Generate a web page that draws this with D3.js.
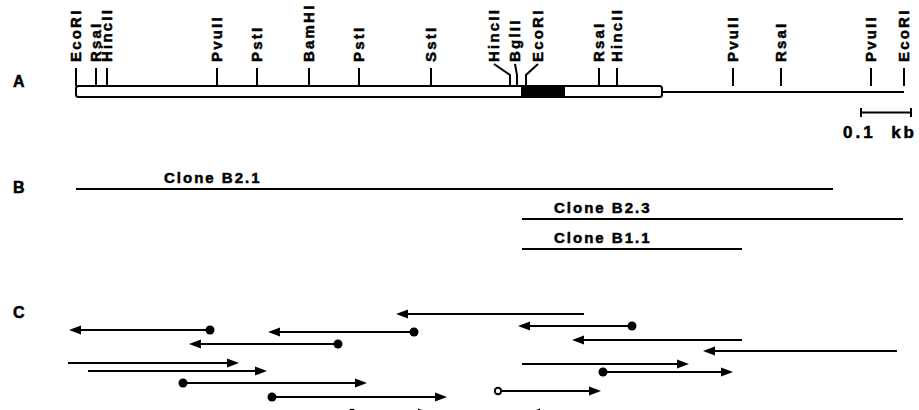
<!DOCTYPE html>
<html>
<head>
<meta charset="utf-8">
<script src="https://cdn.jsdelivr.net/npm/d3@7"></script>
<style>
  body { margin: 0; background: #fff; }
  svg text { font-family: "Liberation Sans", Arial, sans-serif; font-weight: bold; fill: #000;
             stroke: #000; stroke-width: 0.5px; }
</style>
</head>
<body>
<svg class="chart"></svg>
<script>
var width = 919, height = 410;

// restriction sites, positions in bp from the left EcoRI site
var siteNames = ["EcoRI", "RsaI", "HincII", "PvuII", "PstI", "BamHI", "PstI", "SstI",
                 "HincII", "BglII", "EcoRI", "RsaI", "HincII", "PvuII", "RsaI", "PvuII", "EcoRI"];
var sitePos   = [0, 40, 62, 282, 362, 466, 566, 710, 868, 882, 900, 1046, 1082, 1314, 1410, 1590, 1656];
var labelPos  = [0, 40, 62, 282, 362, 466, 566, 710, 836, 878, 924, 1046, 1082, 1314, 1410, 1590, 1656];

// cDNA insert (open box) and coding block (filled)
var insert = [0, 1172];
var coding = [890, 978];
var scaleBar = [1570, 1670];

// clones (panel B)
var cloneNames = ["Clone B2.1", "Clone B2.3", "Clone B1.1"];
var cloneStart = [0, 892, 892];
var cloneEnd   = [1514, 1654, 1332];
var cloneLane  = [0, 1, 2];

// sequencing runs (panel C): from origin to arrow tip
var readFrom = [268, 676, 524, 1016, -16, 24, 214, 392, 1112, 1332, 1642, 892, 1054, 844, 552, 1168];
var readTo   = [-14, 384, 226, 640, 326, 382, 582, 742, 884, 992, 1254, 1226, 1314, 1050, 708, 904];
var readLane = [16, 18, 30, 0, 49, 57, 69, 83, 12, 26, 37, 50, 58, 77, 99, 99];
var readMark = ["dot", "dot", "dot", "none", "none", "none", "dot", "dot",
                "dot", "none", "none", "none", "dot", "open", "open", "none"];

var x = d3.scaleLinear().domain([0, 1656]).range([76, 904]);
var yClone = d3.scaleLinear().domain([0, 2]).range([189, 249]);
var yRead = d3.scaleLinear().domain([0, 100]).range([314, 414]);

var svg = d3.select(".chart")
    .attr("width", width)
    .attr("height", height);

// panel letters
svg.selectAll(".panel")
  .data([["A", 87], ["B", 193], ["C", 318]])
  .enter().append("text")
    .attr("class", "panel")
    .attr("x", 13)
    .attr("y", function(d) { return d[1]; })
    .style("font-size", "16px")
    .text(function(d) { return d[0]; });

// ---- panel A ----
var mapG = svg.append("g");

mapG.append("line")
    .attr("x1", x(insert[1])).attr("x2", x(1656))
    .attr("y1", 92).attr("y2", 92)
    .attr("stroke", "#000").attr("stroke-width", 2);

mapG.append("rect")
    .attr("x", x(insert[0]))
    .attr("y", 86)
    .attr("width", x(insert[1]) - x(insert[0]))
    .attr("height", 11)
    .attr("rx", 2.5)
    .attr("fill", "#fff")
    .attr("stroke", "#000")
    .attr("stroke-width", 2);

mapG.append("rect")
    .attr("x", x(coding[0]))
    .attr("y", 86)
    .attr("width", x(coding[1]) - x(coding[0]))
    .attr("height", 11)
    .attr("fill", "#000");

var sites = siteNames.map(function(n, i) {
  return {name: n, pos: sitePos[i], label: labelPos[i]};
});

mapG.selectAll(".tick")
  .data(sites)
  .enter().append("path")
    .attr("class", "tick")
    .attr("fill", "none")
    .attr("stroke", "#000")
    .attr("stroke-width", 2)
    .attr("d", function(d) {
      if (d.label === d.pos) return "M" + x(d.pos) + ",68V86";
      return "M" + x(d.label) + ",64L" + x(d.pos) + ",75V86";
    });

mapG.selectAll(".site")
  .data(sites)
  .enter().append("text")
    .attr("class", "site")
    .attr("transform", function(d) { return "translate(" + x(d.label) + ",62) rotate(-90)"; })
    .attr("dy", "0.36em")
    .style("font-size", "15px")
    .style("letter-spacing", "2.2px")
    .text(function(d) { return d.name; });

// scale bar
mapG.append("path")
    .attr("fill", "none").attr("stroke", "#000").attr("stroke-width", 2)
    .attr("d", "M" + x(scaleBar[0]) + ",108V117M" + x(scaleBar[0]) + ",112.5H" + x(scaleBar[1]) +
               "M" + x(scaleBar[1]) + ",108V117");

mapG.append("text")
    .attr("x", 917)
    .attr("y", 138)
    .attr("text-anchor", "end")
    .style("font-size", "17px")
    .style("letter-spacing", "3px")
    .text("0.1\u00a0 kb");

// ---- panel B ----
var clones = cloneNames.map(function(n, i) {
  return {name: n, a: cloneStart[i], b: cloneEnd[i], lane: cloneLane[i]};
});

var cg = svg.selectAll(".clone")
  .data(clones)
  .enter().append("g")
    .attr("class", "clone");

cg.append("line")
    .attr("x1", function(d) { return x(d.a); })
    .attr("x2", function(d) { return x(d.b); })
    .attr("y1", function(d) { return yClone(d.lane); })
    .attr("y2", function(d) { return yClone(d.lane); })
    .attr("stroke", "#000")
    .attr("stroke-width", 2);

cg.append("text")
    .attr("x", function(d) { return x(d.a) + (d.a === 0 ? 88 : 32); })
    .attr("y", function(d) { return yClone(d.lane) - 6; })
    .style("font-size", "15px")
    .style("letter-spacing", "2px")
    .text(function(d) { return d.name; });

// ---- panel C ----
var reads = readFrom.map(function(f, i) {
  return {from: f, to: readTo[i], lane: readLane[i], mark: readMark[i]};
});

var rg = svg.selectAll(".read")
  .data(reads)
  .enter().append("g")
    .attr("class", "read");

rg.append("line")
    .attr("x1", function(d) { return x(d.from); })
    .attr("x2", function(d) { return x(d.to) - (d.to > d.from ? 6 : -6); })
    .attr("y1", function(d) { return yRead(d.lane); })
    .attr("y2", function(d) { return yRead(d.lane); })
    .attr("stroke", "#000")
    .attr("stroke-width", 2);

rg.append("path")
    .attr("fill", "#000")
    .attr("d", function(d) {
      var tx = x(d.to), ty = yRead(d.lane), s = d.to > d.from ? 1 : -1;
      return "M" + tx + "," + ty + "L" + (tx - s * 12) + "," + (ty - 4.5) +
             "L" + (tx - s * 12) + "," + (ty + 4.5) + "Z";
    });

rg.filter(function(d) { return d.mark !== "none"; })
  .append("circle")
    .attr("cx", function(d) { return x(d.from); })
    .attr("cy", function(d) { return yRead(d.lane); })
    .attr("r", function(d) { return d.mark === "dot" ? 4.5 : 3.2; })
    .attr("fill", function(d) { return d.mark === "dot" ? "#000" : "#fff"; })
    .attr("stroke", "#000")
    .attr("stroke-width", function(d) { return d.mark === "dot" ? 0 : 2; });
</script>
</body>
</html>
